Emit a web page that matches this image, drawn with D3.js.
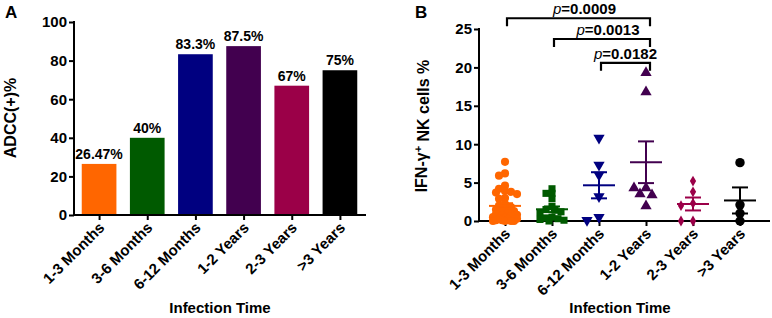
<!DOCTYPE html>
<html>
<head>
<meta charset="utf-8">
<script src="https://cdn.jsdelivr.net/npm/d3@7"></script>
<style>
  body { margin: 0; background: #fff; }
  text { font-family: Arial, "Liberation Sans", sans-serif; }
</style>
</head>
<body>
<div id="chart"></div>
<script>
var categories = ["1-3 Months", "3-6 Months", "6-12 Months", "1-2 Years", "2-3 Years", ">3 Years"]
var colors = ["#ff6600", "#005a00", "#000080", "#42004f", "#9b0048", "#000000"]

// panel A
var adccValues = [26.47, 40, 83.3, 87.5, 67, 75]
var adccLabels = ["26.47%", "40%", "83.3%", "87.5%", "67%", "75%"]
var adccTicks = [0, 20, 40, 60, 80, 100]

// panel B
var ifnGroups = [
  [7.7, 6.2, 5.9, 4.6, 4.2, 3.9, 3.8, 3.7, 3.5, 3.0, 2.9, 2.2, 2.0, 1.8, 1.6, 1.5, 1.3, 1.2, 1.0, 0.9, 0.8, 0.7, 0.6, 0.5, 0.4, 0.3, 0.3, 0.2, 0.1, 0.1, 0, 0, 0, 0],
  [4.2, 3.6, 3.6, 2.9, 1.9, 1.5, 1.2, 1.4, 1.1, 0.4, 0.5, 0.3, 0.2, 0.1, 0],
  [10.8, 7.3, 6.0, 3.2, 0.1, 0.5],
  [19.3, 16.8, 4.3, 3.5, 3.4, 4.3, 1.95],
  [5.2, 3.8, 2.3, 2.0, 0, 0],
  [7.6, 2.1, 1.0, 0]
]
var ifnTicks = [0, 5, 10, 15, 20, 25]
var markerTypes = [d3.symbolCircle, d3.symbolSquare, "down", d3.symbolTriangle, d3.symbolDiamond, d3.symbolCircle]
var markerSizes = [52, 50, 55, 55, 34, 70]
var bracketFrom = ["1-3 Months", "3-6 Months", "6-12 Months"]
var bracketTo = ["1-2 Years", "1-2 Years", "1-2 Years"]
var bracketP = ["0.0009", "0.0013", "0.0182"]
var bracketLevels = [26.4, 23.7, 20.6]

var svg = d3.select("#chart").append("svg")
  .attr("width", 772)
  .attr("height", 318)
  .style("background", "#fff")

function xAxisLabels(g) {
  g.selectAll(".tick text")
    .attr("x", 0).attr("y", 0).attr("dy", "0.35em")
    .attr("text-anchor", "end")
    .attr("transform", "translate(2,10) rotate(-45)")
}

function styleAxis(g) {
  g.selectAll("text")
    .style("font-size", "15px")
    .style("font-weight", "bold")
    .attr("fill", "#000")
  g.selectAll("line").attr("stroke", "#000").attr("stroke-width", 2)
  g.select(".domain").remove()
}

// ---------- Panel A ----------
var xA = d3.scalePoint().domain(categories).range([75, 364]).padding(0.5)
var yA = d3.scaleLinear().domain([0, 100]).range([215, 22])
var barW = xA.step() * 0.72

var gA = svg.append("g")

gA.selectAll("rect.bar")
  .data(adccValues)
  .enter()
  .append("rect")
  .attr("class", "bar")
  .attr("x", function (d, i) { return xA(categories[i]) - barW / 2 })
  .attr("y", function (d) { return yA(d) })
  .attr("width", barW)
  .attr("height", function (d) { return yA(0) - yA(d) })
  .attr("fill", function (d, i) { return colors[i] })

gA.selectAll("text.val")
  .data(adccValues)
  .enter()
  .append("text")
  .attr("class", "val")
  .attr("x", function (d, i) { return xA(categories[i]) })
  .attr("y", function (d) { return yA(d) - 5 })
  .attr("text-anchor", "middle")
  .style("font-size", "14px")
  .style("font-weight", "bold")
  .text(function (d, i) { return adccLabels[i] })

gA.append("g")
  .attr("transform", "translate(74,0)")
  .call(d3.axisLeft(yA).tickValues(adccTicks).tickSize(5).tickSizeOuter(0).tickPadding(2))
  .call(styleAxis)

gA.append("g")
  .attr("transform", "translate(0,215)")
  .call(d3.axisBottom(xA).tickSize(5).tickSizeOuter(0))
  .call(styleAxis)
  .call(xAxisLabels)

gA.append("line").attr("x1", 74).attr("x2", 74).attr("y1", yA(100) - 1).attr("y2", 216)
  .attr("stroke", "#000").attr("stroke-width", 2)
gA.append("line").attr("x1", 73).attr("x2", 366).attr("y1", 215).attr("y2", 215)
  .attr("stroke", "#000").attr("stroke-width", 2)

gA.append("text")
  .attr("transform", "translate(16,118) rotate(-90)")
  .attr("text-anchor", "middle")
  .style("font-size", "16px").style("font-weight", "bold")
  .text("ADCC(+)%")

gA.append("text")
  .attr("x", 220).attr("y", 313)
  .attr("text-anchor", "middle")
  .style("font-size", "15px").style("font-weight", "bold")
  .text("Infection Time")

gA.append("text")
  .attr("x", 5).attr("y", 18)
  .style("font-size", "17px").style("font-weight", "bold")
  .text("A")

// ---------- Panel B ----------
var xB = d3.scalePoint().domain(categories).range([481.5, 763.5]).padding(0.5)
var yB = d3.scaleLinear().domain([0, 25]).range([221, 29])

var gB = svg.append("g")

gB.append("g")
  .attr("transform", "translate(479,0)")
  .call(d3.axisLeft(yB).tickValues(ifnTicks).tickSize(5).tickSizeOuter(0).tickPadding(2))
  .call(styleAxis)

gB.append("g")
  .attr("transform", "translate(0,221)")
  .call(d3.axisBottom(xB).tickSize(5).tickSizeOuter(0))
  .call(styleAxis)
  .call(xAxisLabels)

gB.append("line").attr("x1", 479).attr("x2", 479).attr("y1", yB(25) - 1).attr("y2", 222)
  .attr("stroke", "#000").attr("stroke-width", 2)
gB.append("line").attr("x1", 478).attr("x2", 770).attr("y1", 221).attr("y2", 221)
  .attr("stroke", "#000").attr("stroke-width", 2)

// simple beeswarm, capped width: dots overlap once there is no room left
function swarm(values, minDist, step, maxOff) {
  var order = values.map(function (v, i) { return i })
    .sort(function (a, b) { return values[b] - values[a] })
  var placed = []
  var out = new Array(values.length)
  var cands = [0]
  for (var k = 1; k * step <= maxOff; k++) cands.push(-k * step, k * step)
  order.forEach(function (i) {
    var py = yB(values[i])
    var best = 0, bestD = -1
    for (var c = 0; c < cands.length; c++) {
      var off = cands[c]
      var dmin = d3.min(placed, function (p) {
        return Math.hypot(p[0] - off, p[1] - py)
      })
      if (dmin === undefined) dmin = Infinity
      if (dmin >= minDist) { best = off; bestD = dmin; break }
      if (dmin > bestD) { bestD = dmin; best = off }
    }
    placed.push([best, py])
    out[i] = best
  })
  return out
}

ifnGroups.forEach(function (vals, gi) {
  var cx = xB(categories[gi])
  var offs = gi < 2 ? swarm(vals, 4.5, 3, 13) : swarm(vals, 7, 6, 14)
  var type = markerTypes[gi]
  var sym = d3.symbol().type(type === "down" ? d3.symbolTriangle : type).size(markerSizes[gi])

  gB.selectAll("path.pt" + gi)
    .data(vals)
    .enter()
    .append("path")
    .attr("class", "pt" + gi)
    .attr("d", sym)
    .attr("fill", colors[gi])
    .attr("transform", function (d, i) {
      return "translate(" + (cx + offs[i]) + "," + yB(d) + ")" + (type === "down" ? " rotate(180)" : "")
    })

  var m = d3.mean(vals)
  var sem = d3.deviation(vals) / Math.sqrt(vals.length)
  gB.append("line")
    .attr("x1", cx - 16).attr("x2", cx + 16)
    .attr("y1", yB(m)).attr("y2", yB(m))
    .attr("stroke", colors[gi]).attr("stroke-width", 2)
  gB.append("line")
    .attr("x1", cx).attr("x2", cx)
    .attr("y1", yB(m + sem)).attr("y2", yB(m - sem))
    .attr("stroke", colors[gi]).attr("stroke-width", 2)
  ;[m + sem, m - sem].forEach(function (v) {
    gB.append("line")
      .attr("x1", cx - 8).attr("x2", cx + 8)
      .attr("y1", yB(v)).attr("y2", yB(v))
      .attr("stroke", colors[gi]).attr("stroke-width", 2)
  })
})

// significance brackets
bracketP.forEach(function (p, i) {
  var x1 = xB(bracketFrom[i]) + 2
  var x2 = xB(bracketTo[i]) + 4
  var yTop = yB(bracketLevels[i])
  var drop = 8
  gB.append("path")
    .attr("d", "M" + x1 + "," + (yTop + drop) + "V" + yTop + "H" + x2 + "V" + (yTop + drop))
    .attr("fill", "none").attr("stroke", "#000").attr("stroke-width", 2.2)
  var t = gB.append("text")
    .attr("x", (x1 + x2) / 2 + (i === 2 ? 0 : 6))
    .attr("y", yTop - 4)
    .attr("text-anchor", "middle")
    .style("font-size", "15px").style("font-weight", "bold")
  t.append("tspan").style("font-style", "italic").style("font-weight", "normal").text("p")
  t.append("tspan").text("=" + p)
})

var yl = gB.append("text")
  .attr("transform", "translate(427,126) rotate(-90)")
  .attr("text-anchor", "middle")
  .style("font-size", "16px").style("font-weight", "bold")
yl.append("tspan").text("IFN-γ")
yl.append("tspan").attr("dy", "-0.45em").style("font-size", "11px").text("+")
yl.append("tspan").attr("dy", "0.45em").text(" NK cells %")

gB.append("text")
  .attr("x", 620).attr("y", 313)
  .attr("text-anchor", "middle")
  .style("font-size", "15px").style("font-weight", "bold")
  .text("Infection Time")

gB.append("text")
  .attr("x", 415).attr("y", 18)
  .style("font-size", "17px").style("font-weight", "bold")
  .text("B")
</script>
</body>
</html>
